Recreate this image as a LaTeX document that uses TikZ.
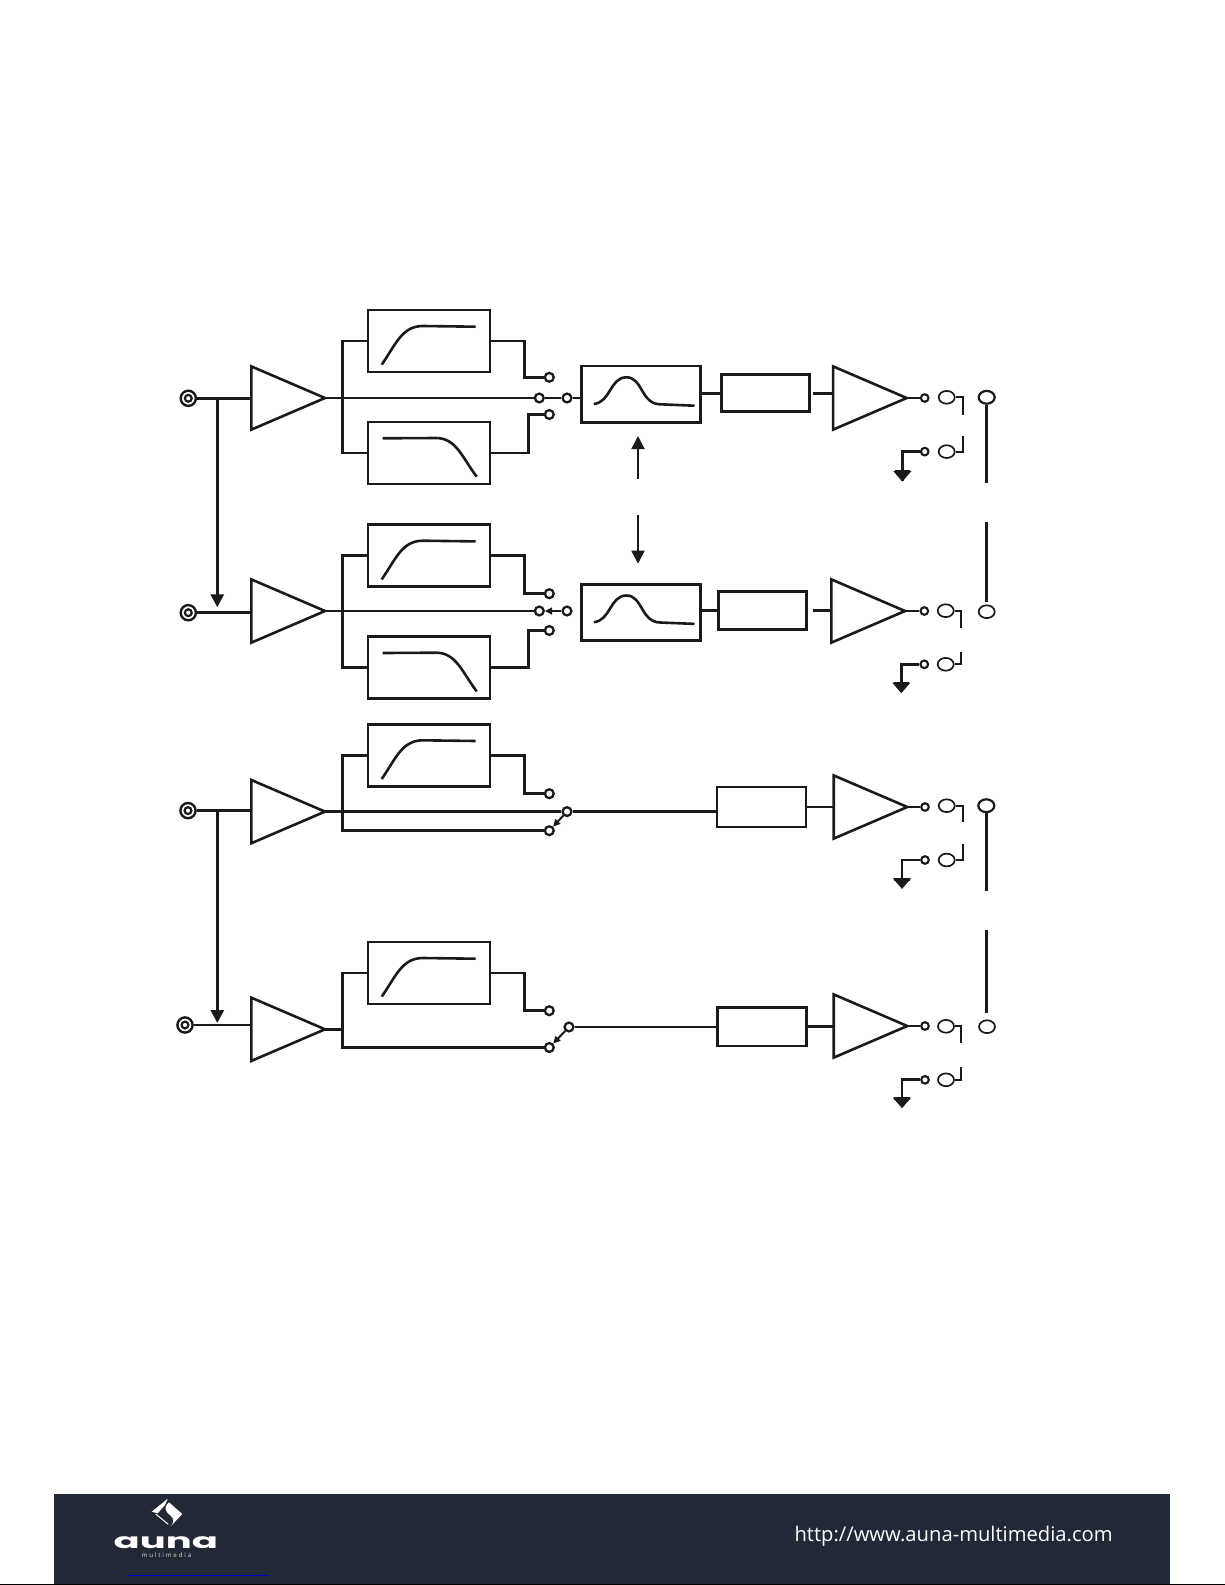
\documentclass[tikz,border=0pt]{standalone}
\usepackage{fontspec}
\usetikzlibrary{shapes.geometric}
\usetikzlibrary{arrows,arrows.meta}
\newfontfamily\urlfont{Open Sans}
\newfontfamily\logofont{Poppins}
\newfontfamily\subfont[LetterSpace=30]{Open Sans}
\definecolor{footer}{RGB}{33,40,54}
\definecolor{wire}{RGB}{28,25,26}

\tikzset{
    wr/.style={line width=1.42pt, wire, line cap=butt},
    thinwr/.style={line width=0.95pt, wire},
    block/.style={draw=wire, line width=1.4pt, inner sep=0pt, minimum width=61pt, minimum height=31pt},
    delay/.style={draw=wire, line width=1.35pt, inner sep=0pt, minimum width=44.2pt, minimum height=18.4pt},
    ampl/.style={draw=wire, line width=1.3pt, inner sep=0pt, outer sep=0pt, isosceles triangle, isosceles triangle stretches, minimum width=31.6pt, minimum height=36.8pt, anchor=apex},
    gnd/.style={draw=wire, fill=wire, line width=0.7pt, inner sep=0pt, outer sep=0pt, isosceles triangle, isosceles triangle stretches, shape border rotate=-90, minimum width=7.6pt, minimum height=4.4pt, anchor=lower side},
    pin/.style={circle, draw=wire, fill=white, line width=1.15pt, inner sep=0pt, minimum size=4.4pt},
    opin/.style={pin, line width=1.05pt, minimum size=3.8pt},
    socket/.style={ellipse, draw=wire, line width=0.85pt, inner sep=0pt, minimum width=8pt, minimum height=6.4pt},
    jack/.style={circle, draw=wire, line width=1.2pt, inner sep=0pt, minimum size=7.6pt,
        path picture={\draw[wire, line width=1.1pt] (path picture bounding box.center) circle (1.7pt);}},
    arr/.style={-{Triangle[length=6.5pt, width=6.5pt]}},
    tinyarr/.style={-{Triangle[length=3.6pt, width=3.4pt]}, line width=1pt, wire},
    hpcurve/.pic={\draw[wr, line width=1.3pt] (-47.3,23.7) .. controls (-33,3) and (-27,-15) .. (-6,-15) -- (46.7,-14.3);},
    lpcurve/.pic={\draw[wr, line width=1.3pt] (-46.3,-14.7) -- (7,-15) .. controls (27,-15) and (33,4) .. (47.7,23.7);},
    bpcurve/.pic={\draw[wr, line width=1.3pt] (-47,9.7) .. controls (-30,8) and (-31,-17) .. (-14.3,-17) .. controls (2,-17) and (0,10) .. (19.7,10) -- (53.7,11.4);},
}

\begin{document}
\begin{tikzpicture}[x=0.5pt, y=-0.5pt]
    \useasboundingbox (0,0) rectangle (1225,1585);

    % footer
    \fill[footer] (53.7,1494) rectangle (1170,1584);
    \draw[black, line width=0.5pt] (0,1584.5) -- (1225,1584.5);
    \draw[blue!80!black, line width=0.5pt] (127,1575) -- (269,1575);
    \node[white, inner sep=0pt, anchor=base east] (url) at (1113,1541.5) {\urlfont\fontsize{10.1pt}{12pt}\selectfont http://www.auna-multimedia.com};
    \fill[white] (167.7,1498.7) -- (151.7,1511.7) -- (157.7,1513.3) -- (165,1505) -- cycle;
    \fill[white] (169,1502.3) -- (182.3,1514) -- (171,1526) .. controls (174,1522) and (174,1519) .. (171,1516) .. controls (165,1511) and (163,1508) .. cycle;
    \draw[white, line width=0.5pt] (155.7,1514) -- (168.3,1524.3);
    \node[white, inner sep=0pt] (logo) at (165.8,1542.8) {\scalebox{1.75}[0.95]{\logofont\bfseries\fontsize{11pt}{12pt}\selectfont auna}};
    \node[white!85!footer, inner sep=0pt] (logosub) at (166.5,1555) {\subfont\fontsize{3.1pt}{4pt}\selectfont multimedia};

    % blocks
    \node[block] (hpa) at (429,341) {};
    \node[block] (lpa) at (429,453) {};
    \node[block] (hpb) at (429,555.7) {};
    \node[block] (lpb) at (429,667.7) {};
    \node[block] (hpc) at (429,755.3) {};
    \node[block] (hpd) at (429,973) {};
    \foreach \n in {hpa,hpb,hpc,hpd} {\pic at (\n) {hpcurve};}
    \foreach \n in {lpa,lpb} {\pic at (\n) {lpcurve};}

    \node[block, minimum width=59.3pt, minimum height=28.3pt] (eqa) at (640.8,394.3) {};
    \node[block, minimum width=59.3pt, minimum height=28.3pt] (eqb) at (640.8,612.5) {};
    \pic at (eqa) {bpcurve};
    \pic at (eqb) {bpcurve};

    \node[delay] (dla) at (765.5,393.2) {};
    \node[delay, minimum height=19pt] (dlb) at (762.5,610.2) {};
    \node[delay, line width=1pt, minimum width=44.5pt, minimum height=19.7pt] (dlc) at (761.5,807) {};
    \node[delay, line width=1.2pt, minimum width=44.5pt, minimum height=19.2pt] (dld) at (762,1026.8) {};

    % input side
    \foreach \n/\x/\y/\ay in {a/188.3/398.3/398, b/188.3/612.7/611, c/188/810.6/811.6, d/185/1025/1029.3} {
        \node[jack] (jack\n) at (\x,\y) {};
        \node[ampl] (in\n) at (325,\ay) {};
        \draw[wr] (jack\n) -- (in\n.lower side |- jack\n);
    }
    \coordinate (tapa) at (217.3,398.3);
    \coordinate (endb) at (217.3,607.3);
    \coordinate (tapc) at (217.3,810.6);
    \coordinate (endd) at (217.3,1023);
    \draw[wr, arr] (tapa) -- (endb);
    \draw[wr, arr] (tapc) -- (endd);

    % switch contacts
    \node[pin] (ua) at (549.3,377.3) {};
    \node[pin] (ma) at (539.3,398) {};
    \node[pin] (la) at (549.3,414.5) {};
    \node[pin] (sa) at (567,398) {};
    \node[pin] (ub) at (549.3,593.7) {};
    \node[pin] (mb) at (539.3,611) {};
    \node[pin] (lb) at (549.3,630.5) {};
    \node[pin] (sb) at (567,611) {};
    \node[pin] (uc) at (549.3,793.7) {};
    \node[pin] (lc) at (549.3,830.7) {};
    \node[pin] (sc) at (567,811.6) {};
    \node[pin] (ud) at (549.3,1010.7) {};
    \node[pin] (ld) at (549.3,1047.5) {};
    \node[pin] (sd) at (569,1027) {};

    \draw[wr] (ina.apex) -- (ma);
    \draw[wr] (inb.apex) -- (mb);
    \draw[wr] (inc.apex) -- (sc);
    \draw[wr] (ind.apex) -- (342.3,1029.3);
    \draw[wr] (ma) -- (sa);

    % splits
    \draw[wr] (hpa.west) -| (342.7,398) |- (lpa.west);
    \draw[wr] (hpb.west) -| (342.7,611) |- (lpb.west);
    \draw[wr] (hpc.west) -| (342.3,811.6) |- (lc);
    \draw[wr] (hpd.west) -| (342.3,1029.3) |- (ld);

    % outputs of the filters
    \draw[wr] (hpa.east) -| (524.7,377.3) -- (ua);
    \draw[wr] (lpa.east) -| (528.7,414.5) -- (la);
    \draw[wr] (hpb.east) -| (524.7,593.7) -- (ub);
    \draw[wr] (lpb.east) -| (528.7,630.5) -- (lb);
    \draw[wr] (hpc.east) -| (524.3,793.7) -- (uc);
    \draw[wr] (hpd.east) -| (524.3,1010.7) -- (ud);

    \draw[wr] (sa) -- (eqa.west |- sa);
    \draw[tinyarr] (sb) -- (mb);
    \draw[tinyarr] (sc) -- (lc);
    \draw[tinyarr] (sd) -- (ld);
    \draw[wr] (sc) -- (dlc.west |- sc);
    \draw[wr] (sd) -- (dld.west |- sd);

    % link between the eq blocks
    \coordinate (linka) at (638,478.7);
    \coordinate (linkb) at (638,436);
    \coordinate (linkc) at (638,515.3);
    \coordinate (linkd) at (638,563.7);
    \draw[thinwr, arr] (linka) -- (linkb);
    \draw[thinwr, arr] (linkc) -- (linkd);

    % output side
    \foreach \n/\x/\y/\ex/\ey/\hx/\hy/\ly/\lh/\gx/\gy/\px in {
        a/906.7/398/946.7/397.3/963/414.7/451.6/435.7/902.3/471.7/924.7,
        b/905/611/945.7/610.7/961.3/628/664.3/652.3/901.3/683.3/924.3,
        c/907.3/807/946.7/805.7/963/822.3/860/844/902/879/925,
        d/907.3/1026/946/1026.3/960.8/1043/1079.8/1067.3/902/1098.3/925} {
        \node[ampl] (out\n) at (\x,\y) {};
        \node[opin] (po\n) at (\px,\y) {};
        \node[opin] (pg\n) at (\px,\ly) {};
        \node[socket] (so\n) at (\ex,\ey) {};
        \node[socket] (sg\n) at (\ex,\ly) {};
        \node[gnd] (gn\n) at (\gx,\gy) {};
        \coordinate (ho\n) at (\hx,\hy);
        \coordinate (hg\n) at (\hx,\lh);
        \draw[wr] (out\n.apex) -- (po\n);
        \draw[wr] (pg\n) -| (gn\n.apex);
        \draw[wr, line width=1.5pt] (gn\n.left corner) -- (gn\n.right corner);
        \draw[thinwr] (so\n) -| (ho\n);
        \draw[thinwr] (sg\n) -| (hg\n);
    }

    \draw[wr] ([xshift=1.2pt]dla.east) -- (outa.lower side |- dla.east);
    \draw[wr] ([xshift=2.6pt]dlb.east) -- (outb.lower side |- dlb.east);
    \draw[wr] (dlc.east) -- (outc.lower side |- dlc.east);
    \draw[wr] (dld.east) -- (outd.lower side |- dld.east);
    \draw[wr] (eqa.east |- dla.east) -- (dla.west);
    \draw[wr] (eqb.east |- dlb.east) -- (dlb.west);

    % stereo link on the right
    \node[socket, line width=1.1pt] (lka) at (986.7,397.3) {};
    \node[socket] (lkb) at (986.7,611.7) {};
    \node[socket, line width=1.1pt] (lkc) at (986.3,805.7) {};
    \node[socket] (lkd) at (987,1026.7) {};
    \coordinate (gapa) at (986.7,482.7);
    \coordinate (gapb) at (986.7,522);
    \coordinate (gapc) at (986.3,890.7);
    \coordinate (gapd) at (986.3,930);
    \draw[wr] (lka) -- (gapa);
    \draw[wr] (gapb) -- ([yshift=1pt]lkb.north -| gapb);
    \draw[wr] (lkc) -- (gapc);
    \draw[wr] (gapd) -- ([yshift=3pt]lkd.north -| gapd);
\end{tikzpicture}
\end{document}
